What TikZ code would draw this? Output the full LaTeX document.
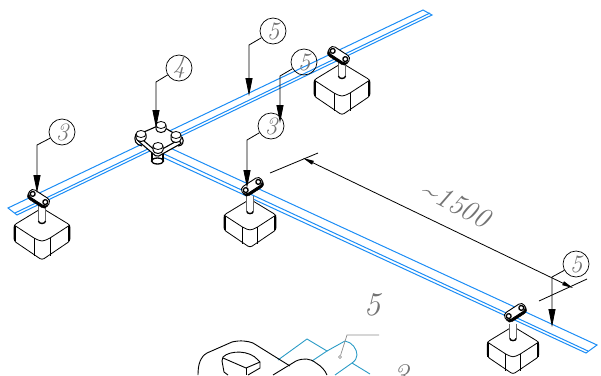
\documentclass[tikz,border=0pt]{standalone}
\usepackage{amsmath}
\usetikzlibrary{arrows.meta,positioning,calc}
\definecolor{stripblue}{HTML}{1A8CF5}
\definecolor{sectionblue}{HTML}{2A9BC6}

\begin{document}
\begin{tikzpicture}[x=1pt,y=-1pt,
callout/.style={circle,draw=black,line width=0.7pt,inner sep=0pt,minimum size=26pt,text=black!55,font=\fontsize{25}{25}\selectfont\itshape},
label/.style={text=black!55,inner sep=0pt,font=\fontsize{33}{33}\selectfont\itshape},
dimtext/.style={text=black!55,inner sep=0pt,font=\fontsize{29}{29}\selectfont\itshape},
leader/.style={line width=0.8pt,-{Triangle[length=18pt,width=7pt]}},
dimline/.style={line width=0.8pt,{Triangle[length=11pt,width=4pt]}-{Triangle[length=11pt,width=4pt]}},
extline/.style={line width=0.8pt},
strip/.style={draw=stripblue,line width=1pt},
section/.style={draw=sectionblue,line width=0.9pt},
block/.pic={
  \draw[fill=white,line width=0.8pt,rounded corners=2.5pt] (-28,0) -- (0,-17) -- (28,0) -- (28,16) -- (0,35) -- (-28,16) -- cycle;
  \draw[line width=0.8pt] (-28,0) -- (-8,13) .. controls (0,17) .. (8,13) -- (28,0);
  \draw[line width=0.8pt] (-8,13) -- (-8,31);
  \draw[line width=0.8pt] (8,13) -- (8,31);
  \draw[line width=1.6pt] (-27,1) -- (-27,16);
  \draw[line width=1.6pt] (27,1) -- (27,16);
  \fill[white] (-3.5,-20) rectangle (3.5,-3);
  \draw[black!60,line width=0.6pt] (-3.5,-20) -- (-3.5,-4);
  \draw[black!60,line width=0.6pt] (3.5,-20) -- (3.5,-4);
  \draw[line width=1.4pt] (-3.5,-4) arc[start angle=180,end angle=360,x radius=3.5,y radius=-2.5];
},
clamp/.pic={
  \draw[fill=black,rounded corners=4pt] (-11.5,-3) rectangle (11.5,6.5);
  \draw[fill=white,line width=0.9pt,rounded corners=4pt] (-11.5,-4.5) rectangle (11.5,4);
  \draw[fill=white,line width=1.3pt] (-7.5,0) circle[radius=2.4];
  \draw[fill=white,line width=1.3pt] (7.5,0) circle[radius=2.4];
},
bolt/.pic={
  \draw[fill=white,line width=1pt] (-5,0) -- (-5,-3) arc[start angle=180,end angle=360,x radius=5,y radius=3.5] -- (5,0) arc[start angle=0,end angle=-180,x radius=5,y radius=-3.5];
  \draw[fill=white,line width=0.8pt] (0,-4) ellipse[x radius=5,y radius=3.5];
}]
\useasboundingbox (0,0) rectangle (601,375);
\clip (0,0) rectangle (601,375);

\draw[strip] (8,208) -- (423,10) -- (432,15) -- (17,215) -- cycle;
\draw[strip] (15,213) -- (430,13);
\draw[strip] (168,147) -- (597,345) -- (586,353) -- (160,156);
\draw[strip] (162,153) -- (588,351);

\pic at (42,225) {block};
\pic at (342,80) {block};
\pic[scale=0.93] at (250,215) {block};
\pic[scale=0.92] at (513,342) {block};

\pic[rotate=-33] at (39,198) {clamp};
\pic[rotate=-33] at (339,55) {clamp};
\pic[rotate=33] at (252,186) {clamp};
\pic[rotate=33] at (515,312) {clamp};

\draw[line width=1.1pt] (136,134) .. controls (133,140) and (136,145) .. (142,146);
\draw[line width=1.1pt] (182,137) .. controls (185,142) and (182,146) .. (178,146);
\draw[fill=white,line width=1.1pt] (152,152) rectangle (163,161);
\draw[fill=white,line width=1.3pt] (157.5,161) ellipse[x radius=6,y radius=3];
\draw[fill=white,line width=1.1pt,rounded corners=2pt] (137,140) -- (160,130) -- (182,143) -- (157,157) -- cycle;
\draw[fill=white,line width=1.1pt,rounded corners=2pt] (137,135) -- (160,125) -- (182,138) -- (157,152) -- cycle;
\pic at (161,129) {bolt};
\pic at (141,138) {bolt};
\pic at (176,139) {bolt};
\pic at (158,150) {bolt};

\draw[extline] (270,173) -- (318,153);
\draw[extline] (539,301) -- (587,279);

\node (n3a) [callout] at (62,132) {3};
\node (n4) [callout] at (179,68) {4};
\node (n5a) [callout] at (273,31) {5};
\node (n5b) [callout] at (304,62) {5};
\node (n3b) [callout] at (271,126) {3};
\node (n5c) [callout] at (576,264) {5};
\node (size) [dimtext,rotate=-27] at (456,204) {\textasciitilde1500};
\node (n5d) [label] at (372,305) {5};
\node (n3d) [label] at (400,376) {3};

\coordinate (e3a) at (37,145);
\coordinate (e4) at (156,82);
\coordinate (e5a) at (249,45);
\coordinate (e5b) at (280,76);
\coordinate (e3b) at (247,140);
\coordinate (e5c) at (552,277);
\coordinate (t3a) at (37,193);
\coordinate (t4) at (156,128);
\coordinate (t5a) at (249,96);
\coordinate (t5b) at (280,123);
\coordinate (t3b) at (247,188);
\coordinate (t5c) at (552,327);
\coordinate (d1) at (303,158);
\coordinate (d2) at (573,288);

\draw [leader] (n3a) -- (e3a) -- (t3a);
\draw [leader] (n4) -- (e4) -- (t4);
\draw [leader] (n5a) -- (e5a) -- (t5a);
\draw [leader] (n5b) -- (e5b) -- (t5b);
\draw [leader] (n3b) -- (e3b) -- (t3b);
\draw [leader] (n5c) -- (e5c) -- (t5c);
\draw [dimline] (d1) -- (d2);

\draw[section] (278,360) -- (307,339) -- (327,351) -- (312,361);
\draw[section] (327,351) -- (345,341) .. controls (352,342) and (357,349) .. (357,355) .. controls (357,358) and (355,361) .. (352,363) -- (335,375);
\draw[section] (352,363) -- (370,374);

\draw[line width=0.9pt] (198,375) .. controls (198,365) and (200,357) .. (207,353) -- (232,342) .. controls (240,340) and (248,341) .. (253,343) -- (290,366);
\draw[line width=0.9pt] (273,375) -- (296,361) .. controls (303,358) and (310,358) .. (316,363) .. controls (321,366) and (325,370) .. (327,375);
\draw[line width=0.9pt] (222,361) -- (223,357) .. controls (230,350) and (250,350) .. (258,360) -- (260,362) -- (260,368) -- (248,375);
\draw[line width=0.9pt] (222,361) -- (224,372) -- (228,375);
\draw[line width=0.9pt] (223,358) -- (246,368) -- (260,362);
\draw[line width=0.9pt] (246,368) -- (246,375);

\node (hole) [circle,draw=black!50,line width=0.6pt,inner sep=0pt,minimum size=3pt] at (340,357) {};
\coordinate (h1) at (347,335);
\coordinate (h2) at (379,335);
\draw[black!45,line width=0.7pt] (hole) -- (h1) -- (h2);
\end{tikzpicture}
\end{document}
